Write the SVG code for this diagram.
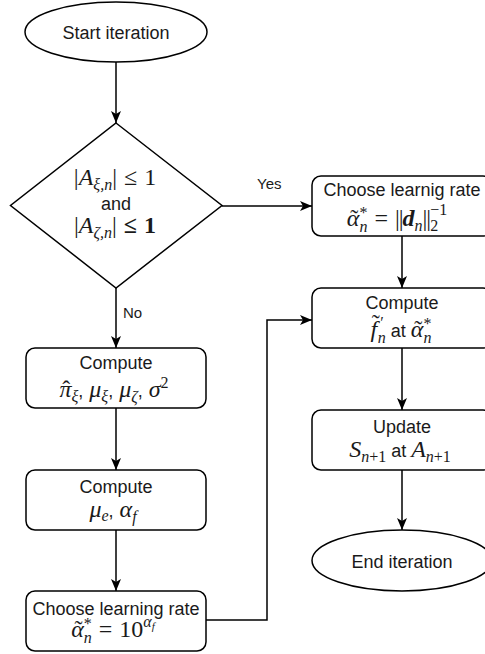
<svg xmlns="http://www.w3.org/2000/svg" width="485" height="654" viewBox="0 0 485 654">
  <style>
    .shape { fill: #ffffff; stroke: #000000; stroke-width: 1.5; }
    .edge { fill: none; stroke: #000000; stroke-width: 1.5; }
    .t { font-family: "Liberation Sans", Arial, sans-serif; font-size: 18px; fill: #1a1a1a; text-anchor: middle; }
    .lbl { font-family: "Liberation Sans", Arial, sans-serif; font-size: 15px; fill: #1a1a1a; }
    .m { font-family: "Liberation Serif", "DejaVu Serif", serif; font-size: 24px; fill: #1a1a1a; text-anchor: middle; }
    .i { font-style: italic; }
    .b { font-weight: bold; }
    .s { font-size: 16px; }
    .ts { font-family: "Liberation Sans", Arial, sans-serif; font-size: 18px; font-style: normal; }
  </style>
  <defs>
    <marker id="arrow" viewBox="0 0 12 10" refX="12" refY="5" markerWidth="12" markerHeight="10" markerUnits="userSpaceOnUse" orient="auto">
      <path d="M0,0 L12,5 L0,10 L3,5 z" fill="#000000"/>
    </marker>
  </defs>

  <!-- connectors -->
  <g id="connectors">
    <path class="edge" d="M116 62 V123" marker-end="url(#arrow)"/>
    <path class="edge" d="M222 206 H312" marker-end="url(#arrow)"/>
    <path class="edge" d="M116 288 V348" marker-end="url(#arrow)"/>
    <path class="edge" d="M116 408 V470" marker-end="url(#arrow)"/>
    <path class="edge" d="M116 530 V591" marker-end="url(#arrow)"/>
    <path class="edge" d="M206 620 H267 V320 H312" marker-end="url(#arrow)"/>
    <path class="edge" d="M402 236 V288" marker-end="url(#arrow)"/>
    <path class="edge" d="M402 348 V410" marker-end="url(#arrow)"/>
    <path class="edge" d="M402 470 V530" marker-end="url(#arrow)"/>
    <text class="lbl" x="257" y="189">Yes</text>
    <text class="lbl" x="123" y="318">No</text>
  </g>

  <!-- start terminal -->
  <g id="start">
    <ellipse class="shape" cx="116" cy="32" rx="91" ry="30"/>
    <text class="t" x="116" y="39">Start iteration</text>
  </g>

  <!-- decision on the bounds of A -->
  <g id="decision">
    <polygon class="shape" points="116,123 222,205.5 116,288 10.5,205.5"/>
    <text class="m" x="115" y="185">|<tspan class="i">A</tspan><tspan class="s i" dy="5">ξ,n</tspan><tspan dy="-5">|</tspan><tspan dx="7">≤</tspan><tspan dx="7">1</tspan></text>
    <text class="t" x="116" y="210">and</text>
    <text class="m" x="115" y="233">|<tspan class="i">A</tspan><tspan class="s i" dy="5">ζ,n</tspan><tspan dy="-5">|</tspan><tspan class="b" dx="7">≤</tspan><tspan class="b" dx="7">1</tspan></text>
  </g>

  <!-- left branch -->
  <g id="compute-stats">
    <rect class="shape" x="26" y="348" width="180" height="60" rx="9"/>
    <text class="t" x="116" y="369">Compute</text>
    <text class="m" x="114" y="397"><tspan class="i">π</tspan><tspan dx="-9.25">ˆ</tspan><tspan class="s i" dx="1.25" dy="5">ξ</tspan><tspan class="ts" dy="-5">,</tspan><tspan class="i" dx="6">μ</tspan><tspan class="s i" dy="5">ξ</tspan><tspan class="ts" dy="-5">,</tspan><tspan class="i" dx="6">μ</tspan><tspan class="s i" dy="5">ζ</tspan><tspan class="ts" dy="-5">,</tspan><tspan class="i" dx="6">σ</tspan><tspan class="s" dy="-9">2</tspan></text>
  </g>

  <g id="compute-mu">
    <rect class="shape" x="26" y="470" width="180" height="60" rx="9"/>
    <text class="t" x="116" y="493">Compute</text>
    <text class="m" x="113" y="517"><tspan class="i">μ</tspan><tspan class="s i" dy="4">e</tspan><tspan class="ts" dy="-4">,</tspan><tspan class="i" dx="6">α</tspan><tspan class="s i" dy="5">f</tspan></text>
  </g>

  <g id="choose-rate-left">
    <rect class="shape" x="26" y="591" width="180" height="60" rx="9"/>
    <text class="t" x="116" y="615">Choose learning rate</text>
    <text class="m" x="113" y="637"><tspan class="i">α</tspan><tspan dx="-9.25">˜</tspan><tspan class="s" dx="1.25" dy="-8">*</tspan><tspan class="s i" dx="-8" dy="14">n</tspan><tspan dx="7" dy="-6">=</tspan><tspan dx="7">10</tspan><tspan class="s i" dy="-10">α</tspan><tspan class="i" font-size="11px" dy="3">f</tspan></text>
  </g>

  <!-- right branch -->
  <g id="choose-rate-right">
    <rect class="shape" x="312" y="176" width="180" height="60" rx="9"/>
    <text class="t" x="402" y="196">Choose learnig rate</text>
    <text class="m" x="397" y="226"><tspan class="i">α</tspan><tspan dx="-9.25">˜</tspan><tspan class="s" dx="1.25" dy="-8">*</tspan><tspan class="s i" dx="-8" dy="14">n</tspan><tspan dx="7" dy="-6">=</tspan><tspan dx="7" letter-spacing="-1">||</tspan><tspan class="b i">d</tspan><tspan class="s i" dy="5">n</tspan><tspan letter-spacing="-1" dy="-5">||</tspan><tspan class="s" dy="5">2</tspan><tspan class="s" dx="-8" dy="-16">−1</tspan></text>
  </g>

  <g id="compute-derivative">
    <rect class="shape" x="312" y="288" width="180" height="60" rx="9"/>
    <text class="t" x="402" y="309">Compute</text>
    <text class="m" x="401" y="337"><tspan class="i">f</tspan><tspan dx="-5.35" dy="-6">˜</tspan><tspan class="s" dx="0.5" dy="-3">′</tspan><tspan class="s i" dx="-6" dy="15">n</tspan><tspan class="ts" dx="5" dy="-6">at</tspan><tspan class="i" dx="5">α</tspan><tspan dx="-9.25">˜</tspan><tspan class="s" dx="1.25" dy="-8">*</tspan><tspan class="s i" dx="-8" dy="14">n</tspan></text>
  </g>

  <g id="update">
    <rect class="shape" x="312" y="410" width="180" height="60" rx="9"/>
    <text class="t" x="402" y="433">Update</text>
    <text class="m" x="400" y="457"><tspan class="i">S</tspan><tspan class="s" dy="5"><tspan class="i">n</tspan>+1</tspan><tspan class="ts" dx="5" dy="-5">at</tspan><tspan class="i" dx="5">A</tspan><tspan class="s" dy="5"><tspan class="i">n</tspan>+1</tspan></text>
  </g>

  <!-- end terminal -->
  <g id="end">
    <ellipse class="shape" cx="402" cy="560.5" rx="90" ry="30.5"/>
    <text class="t" x="402" y="568">End iteration</text>
  </g>
</svg>
